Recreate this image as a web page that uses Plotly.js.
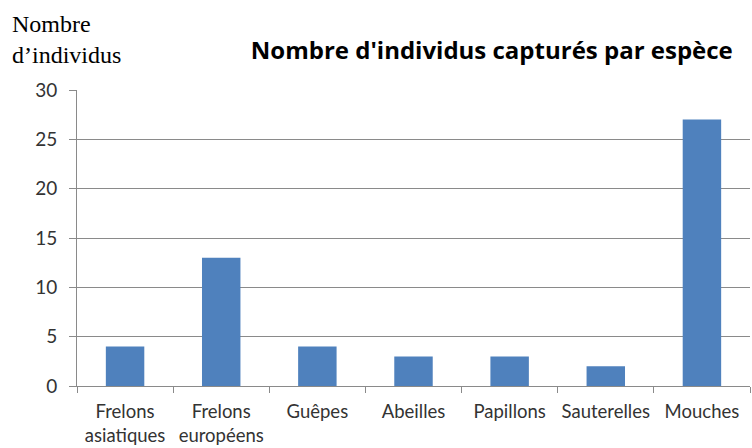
<!DOCTYPE html>
<html>
<head>
<meta charset="utf-8">
<script src="https://cdn.plot.ly/plotly-3.0.1.min.js"></script>
<style>html,body{margin:0;padding:0;background:#fff;}#chart{width:752px;height:448px;}</style>
</head>
<body>
<div id="chart"></div>
<script>
const categories = ["Frelons<br>asiatiques", "Frelons<br>européens", "Guêpes", "Abeilles", "Papillons", "Sauterelles", "Mouches"];
const counts = [4, 13, 4, 3, 3, 2, 27];
const yTicks = [0, 5, 10, 15, 20, 25, 30];
const chartTitle = "Nombre d'individus capturés par espèce";
const yTitle = "Nombre<br>d’individus";

const trace = {
  type: "bar",
  x: categories,
  y: counts,
  marker: {color: "#4F81BD"},
  hoverinfo: "x+y"
};

const layout = {
  width: 752, height: 448,
  margin: {l: 77, r: 2, t: 90, b: 62},
  paper_bgcolor: "#fff", plot_bgcolor: "#fff",
  showlegend: false,
  bargap: 0.6,
  font: {family: "Lato, 'Open Sans', sans-serif", size: 15, color: "#404040"},
  title: {
    text: "<b>" + chartTitle + "</b>",
    font: {family: "'Open Sans', Lato, sans-serif", size: 24, color: "#000"},
    xref: "container", yref: "container",
    x: 0.654, xanchor: "center",
    y: 1 - 51/448, yanchor: "middle"
  },
  xaxis: {
    type: "category",
    showline: true, linecolor: "#8a8a8a", linewidth: 1,
    ticks: "outside", tickson: "boundaries", ticklen: 6, tickcolor: "#8a8a8a",
    showgrid: false,
    tickangle: 0,
    ticklabelstandoff: 9,
    tickfont: {family: "Lato, 'Open Sans', sans-serif", size: 18.5, color: "#333"}
  },
  yaxis: {
    range: [0, 30],
    tickvals: yTicks,
    showline: true, linecolor: "#8a8a8a", linewidth: 1,
    ticks: "outside", ticklen: 7, tickcolor: "#8a8a8a",
    showgrid: true, gridcolor: "#8a8a8a", gridwidth: 1,
    zeroline: false,
    ticklabelstandoff: 8,
    tickfont: {family: "Lato, 'Open Sans', sans-serif", size: 19, color: "#333"}
  },
  annotations: [{
    text: yTitle,
    xref: "paper", yref: "paper",
    x: -67/673, y: 1 + 81/296,
    xanchor: "left", yanchor: "top",
    align: "left", showarrow: false,
    font: {family: "'Liberation Serif', 'Times New Roman', serif", size: 24, color: "#000"}
  }]
};

Plotly.newPlot("chart", [trace], layout, {displayModeBar: false, staticPlot: true});
</script>
</body>
</html>
